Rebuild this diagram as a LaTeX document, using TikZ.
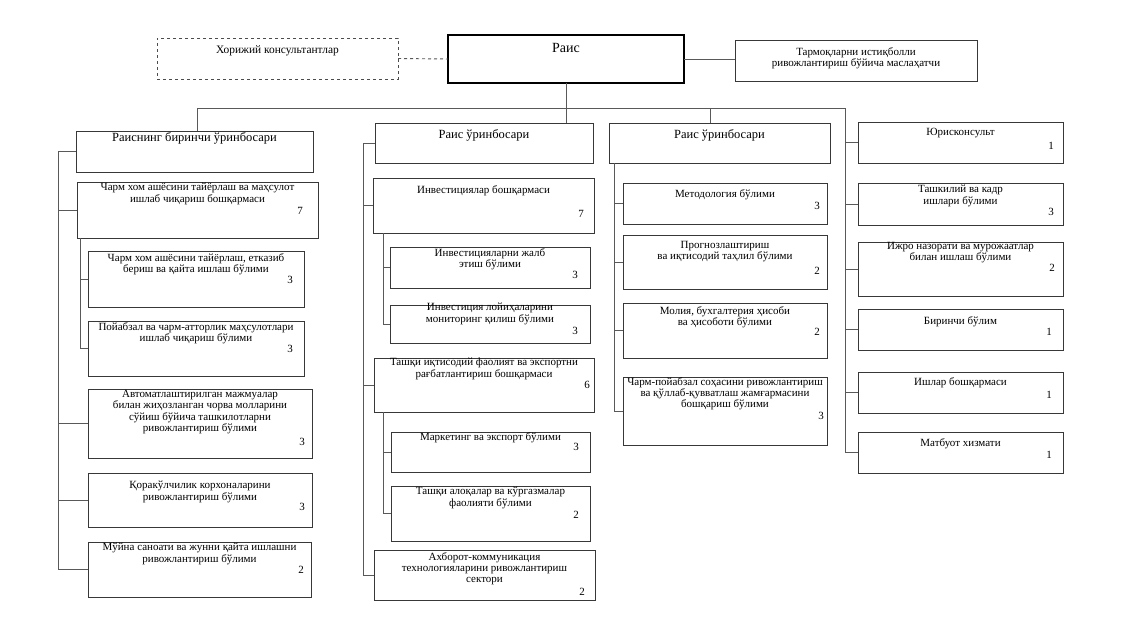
\documentclass[tikz,border=0pt]{standalone}
\usepackage{fontspec}
\setmainfont{Liberation Serif}
\usetikzlibrary{fit}
\begin{document}
\begin{tikzpicture}[x=1pt,y=-1pt,
  bx/.style={draw=black!78, line width=0.9pt, inner sep=0pt, outer sep=0pt},
  tx/.style={inner sep=0pt, align=center, font=\fontsize{11}{11.3}\selectfont, anchor=north},
  hd/.style={inner sep=0pt, align=center, font=\fontsize{12.5}{13.5}\selectfont, anchor=north},
  nm/.style={inner sep=0pt, font=\fontsize{11}{12}\selectfont},
  ln/.style={draw=black!65, line width=0.9pt}]
\useasboundingbox[fill=white] (0,0) rectangle (1130,621);

% top row
\node[bx, dashed, draw=black!70, fit={(157,38)(398,79)}] (xor) {};
\node[tx, font=\fontsize{11.4}{12}\selectfont] at (xor.north |- 0,45) {Хорижий консультантлар};
\node[bx, draw=black, line width=2pt, fit={(448,35)(684,83)}] (rais) {};
\node[hd, font=\fontsize{14}{15}\selectfont] at (rais.north |- 0,43) {Раис};
\node[bx, fit={(735,40)(977,81)}] (tarm) {};
\node[tx] at (tarm.north |- 0,47) {Тармоқларни истиқболли\\ривожлантириш бўйича маслаҳатчи};
\draw[ln, dashed] (xor.east) -- (rais.west);
\draw[ln] (rais.east) -- (rais.east -| tarm.west);

% column 1
\node[bx, fit={(76,131)(313,172)}] (r1) {};
\node[hd] at (r1.north |- 0,132) {Раиснинг биринчи ўринбосари};
\node[bx, fit={(77,182)(318,238)}] (a1) {};
\node[tx] at (a1.north |- 0,183) {Чарм хом ашёсини тайёрлаш ва маҳсулот\\ишлаб чиқариш бошқармаси};
\node[nm] (a1n) at (300,211) {7};
\node[bx, fit={(88,251)(304,307)}] (a11) {};
\node[tx] at (a11.north |- 0,253) {Чарм хом ашёсини тайёрлаш, етказиб\\бериш ва қайта ишлаш бўлими};
\node[nm] (a11n) at (290,280) {3};
\node[bx, fit={(88,321)(304,376)}] (a12) {};
\node[tx] at (a12.north |- 0,322) {Пойабзал ва чарм-атторлик маҳсулотлари\\ишлаб чиқариш бўлими};
\node[nm] (a12n) at (290,349) {3};
\node[bx, fit={(88,389)(312,458)}] (a2) {};
\node[tx] at (a2.north |- 0,390) {Автоматлаштирилган мажмуалар\\билан жиҳозланган чорва молларини\\сўйиш бўйича ташкилотларни\\ривожлантириш бўлими};
\node[nm] (a2n) at (302,442) {3};
\node[bx, fit={(88,473)(312,527)}] (a3) {};
\node[tx] at (a3.north |- 0,481) {Қоракўлчилик корхоналарини\\ривожлантириш бўлими};
\node[nm] (a3n) at (302,507) {3};
\node[bx, fit={(88,542)(311,597)}] (a4) {};
\node[tx] at (a4.north |- 0,543) {Мўйна саноати ва жунни қайта ишлашни\\ривожлантириш бўлими};
\node[nm] (a4n) at (301,570) {2};

% column 2
\node[bx, fit={(375,123)(593,163)}] (d2) {};
\node[hd] at (d2.north |- 0,129) {Раис ўринбосари};
\node[bx, fit={(373,178)(594,233)}] (b1) {};
\node[tx] at (b1.north |- 0,185) {Инвестициялар бошқармаси};
\node[nm] (b1n) at (581,214) {7};
\node[bx, fit={(390,247)(590,288)}] (b11) {};
\node[tx] at (b11.north |- 0,248) {Инвестицияларни жалб\\этиш бўлими};
\node[nm] (b11n) at (575,275) {3};
\node[bx, fit={(390,305)(590,343)}] (b12) {};
\node[tx] at (b12.north |- 0,303) {Инвестиция лойиҳаларини\\мониторинг қилиш бўлими};
\node[nm] (b12n) at (575,331) {3};
\node[bx, fit={(374,358)(594,412)}] (b2) {};
\node[tx] at (b2.north |- 0,358) {Ташқи иқтисодий фаолият ва экспортни\\рағбатлантириш бошқармаси};
\node[nm] (b2n) at (587,385) {6};
\node[bx, fit={(391,432)(590,472)}] (b21) {};
\node[tx] at (b21.north |- 0,432) {Маркетинг ва экспорт бўлими};
\node[nm] (b21n) at (576,447) {3};
\node[bx, fit={(391,486)(590,541)}] (b22) {};
\node[tx] at (b22.north |- 0,487) {Ташқи алоқалар ва кўргазмалар\\фаолияти бўлими};
\node[nm] (b22n) at (576,515) {2};
\node[bx, fit={(374,550)(595,600)}] (b3) {};
\node[tx] at (b3.north |- 0,552) {Ахборот-коммуникация\\технологияларини ривожлантириш\\сектори};
\node[nm] (b3n) at (582,592) {2};

% column 3
\node[bx, fit={(609,123)(830,163)}] (d3) {};
\node[hd] at (d3.north |- 0,129) {Раис ўринбосари};
\node[bx, fit={(623,183)(827,224)}] (c1) {};
\node[tx] at (c1.north |- 0,189) {Методология бўлими};
\node[nm] (c1n) at (817,206) {3};
\node[bx, fit={(623,235)(827,289)}] (c2) {};
\node[tx] at (c2.north |- 0,241) {Прогнозлаштириш\\ва иқтисодий таҳлил бўлими};
\node[nm] (c2n) at (817,271) {2};
\node[bx, fit={(623,303)(827,358)}] (c3) {};
\node[tx] at (c3.north |- 0,306) {Молия, бухгалтерия ҳисоби\\ва ҳисоботи бўлими};
\node[nm] (c3n) at (817,332) {2};
\node[bx, fit={(623,377)(827,445)}] (c4) {};
\node[tx] at (c4.north |- 0,377) {Чарм-пойабзал соҳасини ривожлантириш\\ва қўллаб-қувватлаш жамғармасини\\бошқариш бўлими};
\node[nm] (c4n) at (821,416) {3};

% column 4
\node[bx, fit={(858,122)(1063,163)}] (e1) {};
\node[tx] at (e1.north |- 0,128) {Юрисконсульт};
\node[nm] (e1n) at (1051,146) {1};
\node[bx, fit={(858,183)(1063,225)}] (e2) {};
\node[tx] at (e2.north |- 0,185) {Ташкилий ва кадр\\ишлари бўлими};
\node[nm] (e2n) at (1051,212) {3};
\node[bx, fit={(858,242)(1063,296)}] (e3) {};
\node[tx] at (e3.north |- 0,242) {Ижро назорати ва мурожаатлар\\билан ишлаш бўлими};
\node[nm] (e3n) at (1052,268) {2};
\node[bx, fit={(858,309)(1063,350)}] (e4) {};
\node[tx] at (e4.north |- 0,316) {Биринчи бўлим};
\node[nm] (e4n) at (1049,332) {1};
\node[bx, fit={(858,372)(1063,413)}] (e5) {};
\node[tx] at (e5.north |- 0,377) {Ишлар бошқармаси};
\node[nm] (e5n) at (1049,395) {1};
\node[bx, fit={(858,432)(1063,473)}] (e6) {};
\node[tx] at (e6.north |- 0,438) {Матбуот хизмати};
\node[nm] (e6n) at (1049,455) {1};

% connectors: top
\coordinate (hl) at (197,108);
\coordinate (hr) at (845,108);
\coordinate (h3) at (710,108);
\draw[ln] (rais.south) -- (rais.south |- d2.north);
\draw[ln] (hl) -- (hr);
\draw[ln] (hl) -- (hl |- r1.north);
\draw[ln] (h3) -- (h3 |- d3.north);

% column 1 spines
\coordinate (s1) at (58,0);
\coordinate (s11) at (80,0);
\draw[ln] (s1 |- r1.west) -- (s1 |- a4.west);
\foreach \n in {r1,a1,a2,a3,a4} \draw[ln] (s1 |- \n.west) -- (\n.west);
\draw[ln] (s11 |- a1.south) -- (s11 |- a12.west);
\foreach \n in {a11,a12} \draw[ln] (s11 |- \n.west) -- (\n.west);

% column 2 spines
\coordinate (s2) at (363,0);
\coordinate (s21) at (383,0);
\draw[ln] (s2 |- d2.west) -- (s2 |- b3.west);
\foreach \n in {d2,b1,b2,b3} \draw[ln] (s2 |- \n.west) -- (\n.west);
\draw[ln] (s21 |- b1.south) -- (s21 |- b12.west);
\foreach \n in {b11,b12} \draw[ln] (s21 |- \n.west) -- (\n.west);
\draw[ln] (s21 |- b2.south) -- (s21 |- b22.west);
\foreach \n in {b21,b22} \draw[ln] (s21 |- \n.west) -- (\n.west);

% column 3 spine
\coordinate (s3) at (614,0);
\draw[ln] (s3 |- d3.south) -- (s3 |- c4.west);
\foreach \n in {c1,c2,c3,c4} \draw[ln] (s3 |- \n.west) -- (\n.west);

% column 4 spine
\draw[ln] (hr) -- (hr |- e6.west);
\foreach \n in {e1,e2,e3,e4,e5,e6} \draw[ln] (hr |- \n.west) -- (\n.west);
\end{tikzpicture}
\end{document}
